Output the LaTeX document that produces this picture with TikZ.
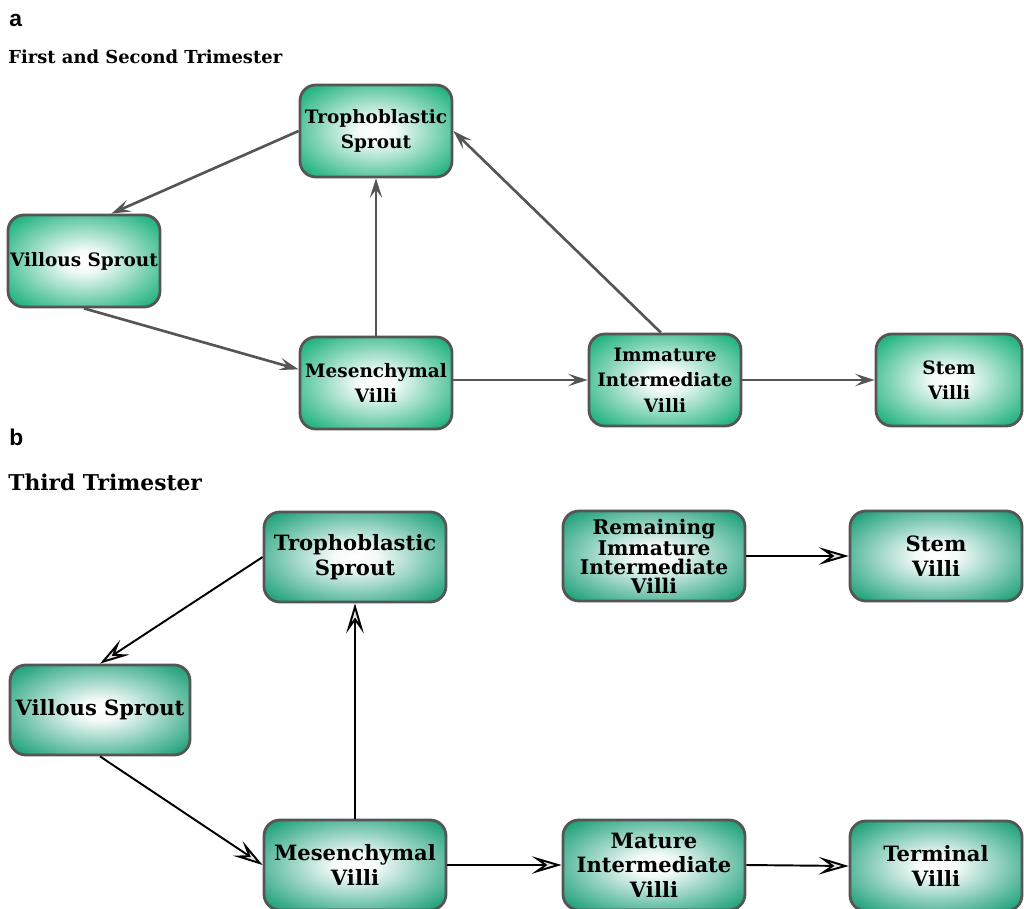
\documentclass[tikz,border=0pt]{standalone}
\usepackage{fontspec}
\setmainfont{DejaVu Serif}
\newfontfamily\labelfont{Liberation Sans}
\usetikzlibrary{arrows.meta}

\definecolor{villigreenA}{RGB}{25,176,122}
\definecolor{villigreenB}{RGB}{28,160,120}
\definecolor{edgegray}{RGB}{85,85,85}

\pgfdeclareradialshading{villishadeA}{\pgfpoint{0bp}{0bp}}{color(0bp)=(white);
  color(6bp)=(white!95!villigreenA); color(33bp)=(villigreenA); color(50bp)=(villigreenA)}
\pgfdeclareradialshading{villishadeB}{\pgfpoint{0bp}{0bp}}{color(0bp)=(white);
  color(6bp)=(white!95!villigreenB); color(33bp)=(villigreenB); color(50bp)=(villigreenB)}

\tikzset{
  villus/.style={draw=edgegray, line width=1.6pt, rounded corners=9pt,
    align=center, inner sep=1pt},
  villusA/.style={villus, shading=villishadeA, minimum width=3.04cm,
    minimum height=1.84cm, font=\fontsize{10.5}{14.5}\selectfont\bfseries},
  villusB/.style={villus, shading=villishadeB, minimum width=3.64cm,
    minimum height=1.8cm, font=\fontsize{12}{14}\selectfont\bfseries},
  linkA/.style={-{Stealth[length=11pt,width=7pt,inset=4.5pt,fill=gray!30]},
    draw=edgegray, line width=1.5pt},
  linkB/.style={-{Stealth[length=17pt,width=10pt,inset=7pt,fill=gray!20]},
    draw=black, line width=1.1pt},
  panel/.style={anchor=west, inner sep=0pt}
}

\begin{document}
\begin{tikzpicture}[x=0.02cm, y=-0.02cm]
\useasboundingbox (0,0) rectangle (1024,909);

% panel a
\node[panel, font=\labelfont\fontsize{13}{13}\selectfont\bfseries] (laba) at (9,20) {a};
\node[panel, font=\fontsize{10.2}{12}\selectfont\bfseries] (titlea) at (8,57) {First and Second Trimester};

\node[villusA] (TSa) at (376,131) {Trophoblastic\\Sprout};
\node[villusA] (VSa) at (84,261) {Villous Sprout};
\node[villusA] (MVa) at (376,383) {Mesenchymal\\Villi};
\node[villusA] (IIa) at (665,380) {Immature\\Intermediate\\Villi};
\node[villusA, minimum width=2.92cm] (STa) at (949,380) {Stem\\Villi};

\draw[linkA] (TSa.west) -- (VSa.60);
\draw[linkA] (VSa.south) -- (MVa.170);
\draw[linkA] (MVa.north) -- (TSa.south);
\draw[linkA] (IIa.95) -- (TSa.east);
\draw[linkA] (MVa.east |- IIa.west) -- (IIa.west);
\draw[linkA] (IIa.east) -- (STa.west);

% panel b
\node[panel, font=\labelfont\fontsize{13}{13}\selectfont\bfseries] (labb) at (9,437) {b};
\node[panel, font=\fontsize{12.4}{14}\selectfont\bfseries] (titleb) at (8,482) {Third Trimester};

\node[villusB] (TSb) at (355,557) {Trophoblastic\\Sprout};
\node[villusB, font=\fontsize{11.5}{10.8}\selectfont\bfseries] (RIb) at (654,556) {Remaining\\Immature\\Intermediate\\Villi};
\node[villusB, minimum width=3.44cm] (STb) at (936,556) {Stem\\Villi};
\node[villusB, minimum width=3.6cm] (VSb) at (100,710) {Villous Sprout};
\node[villusB] (MVb) at (355,865) {Mesenchymal\\Villi};
\node[villusB] (MIb) at (654,865) {Mature\\Intermediate\\Villi};
\node[villusB, minimum width=3.44cm] (TVb) at (936,866) {Terminal\\Villi};

\draw[linkB] (TSb.west) -- (VSb.north);
\draw[linkB] (VSb.south) -- (MVb.west);
\draw[linkB] (MVb.north) -- (TSb.south);
\draw[linkB] (MVb.east) -- (MIb.west);
\draw[linkB] (MIb.east) -- (TVb.west);
\draw[linkB] (RIb.east) -- (STb.west);
\end{tikzpicture}
\end{document}
